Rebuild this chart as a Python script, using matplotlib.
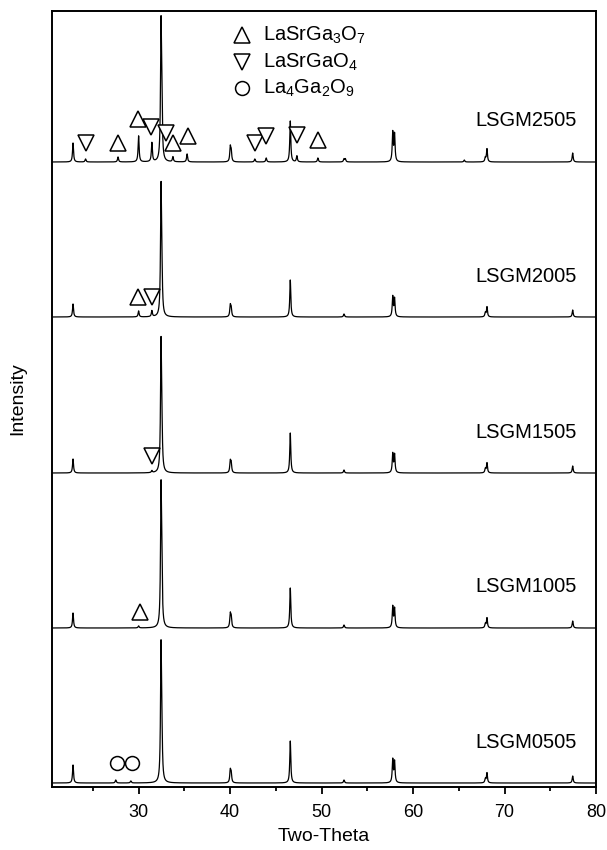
import numpy as np
import matplotlib
matplotlib.use('Agg')
import matplotlib.pyplot as plt

plt.rcParams['font.family'] = ['Liberation Sans', 'DejaVu Sans']
plt.rcParams['mathtext.fontset'] = 'custom'
plt.rcParams['mathtext.rm'] = 'Liberation Sans'
plt.rcParams['mathtext.it'] = 'Liberation Sans:italic'

# perovskite reflections shared by every sample (2-theta, deg)
main_pos = [22.83, 32.45, 32.54, 40.02, 40.12, 46.58, 52.45, 57.78, 57.98, 67.9, 68.08, 77.45]

# intensities per sample, stacked bottom to top
samples = ['LSGM0505', 'LSGM1005', 'LSGM1505', 'LSGM2005', 'LSGM2505']
baselines = [4, 159, 314, 470, 625]
main_heights = {
    'LSGM0505': [18, 130, 38, 12, 9, 42, 3, 23, 21, 4, 10, 7],
    'LSGM1005': [15, 135, 38, 13, 10, 40, 3, 21, 19, 4, 10, 7],
    'LSGM1505': [14, 124, 36, 11, 9, 40, 3, 19, 18, 4, 10, 7],
    'LSGM2005': [13, 123, 36, 11, 8, 37, 3, 20, 18, 4, 10, 7],
    'LSGM2505': [19, 133, 38, 14, 10, 41, 3, 29, 27, 4, 13, 9],
}

# secondary phase reflections
extra_pos = {
    'LSGM0505': [27.5, 29.15],
    'LSGM1005': [30.0],
    'LSGM1505': [31.45],
    'LSGM2005': [30.0, 31.45],
    'LSGM2505': [24.2, 27.75, 30.0, 31.45, 33.75, 35.3, 42.7, 43.95, 47.3, 49.6, 52.6, 65.6],
}
extra_heights = {
    'LSGM0505': [3, 2],
    'LSGM1005': [2],
    'LSGM1505': [2],
    'LSGM2005': [6, 6],
    'LSGM2505': [3, 5, 26, 19, 5, 8, 3, 4, 6, 4, 3, 2],
}

# phase markers: (sample, symbol, 2-theta, height above baseline)
phase_marks = [
    ('LSGM2505', 'v', 24.3, 19), ('LSGM2505', '^', 27.8, 19),
    ('LSGM2505', '^', 29.9, 43), ('LSGM2505', 'v', 31.4, 35),
    ('LSGM2505', 'v', 33.0, 29), ('LSGM2505', '^', 33.8, 19),
    ('LSGM2505', '^', 35.4, 26), ('LSGM2505', 'v', 42.7, 19),
    ('LSGM2505', 'v', 43.9, 26), ('LSGM2505', 'v', 47.3, 27),
    ('LSGM2505', '^', 49.6, 22),
    ('LSGM2005', '^', 29.9, 20), ('LSGM2005', 'v', 31.5, 20),
    ('LSGM1505', 'v', 31.45, 17),
    ('LSGM1005', '^', 30.1, 16),
    ('LSGM0505', 'o', 27.6, 20), ('LSGM0505', 'o', 29.3, 20),
]

legend_symbols = ['^', 'v', 'o']
legend_labels = [r'LaSrGa$_3$O$_7$', r'LaSrGaO$_4$', r'La$_4$Ga$_2$O$_9$']
legend_y = [752, 725, 699]


def profile(x, pos, heights, hw=0.065):
    y = np.zeros_like(x)
    for p, h in zip(pos, heights):
        y += h * hw**2 / ((x - p)**2 + hw**2)
    return y


fig = plt.figure(figsize=(6.07, 8.5), dpi=100)
ax = fig.add_axes([51.7 / 607, 1 - 787 / 850, (596 - 51.7) / 607, 776 / 850])

x = np.arange(20.5, 80.0, 0.005)
for name, base in zip(samples, baselines):
    y = base + profile(x, main_pos, main_heights[name]) + profile(x, extra_pos[name], extra_heights[name])
    ax.plot(x, y, color='black', linewidth=0.9)
    ax.text(77.95, base + 41, name, ha='right', va='center', fontsize=14.5)

offset = dict(zip(samples, baselines))
for name, sym, pos, h in phase_marks:
    ax.plot(pos, offset[name] + h, marker=sym, markersize=11 if sym != 'o' else 10,
            markerfacecolor='white', markeredgecolor='black', markeredgewidth=1.1,
            linestyle='none')

for sym, label, ly in zip(legend_symbols, legend_labels, legend_y):
    ax.plot(41.33, ly, marker=sym, markersize=11 if sym != 'o' else 10,
            markerfacecolor='white', markeredgecolor='black', markeredgewidth=1.1,
            linestyle='none')
    ax.text(43.6, ly, label, ha='left', va='center', fontsize=14.5)

ax.set_xlim(20.5, 80)
ax.set_ylim(0, 776)
ax.set_xticks(np.arange(30, 81, 10))
ax.set_xticks(np.arange(25, 80, 10), minor=True)
ax.set_yticks([])
ax.tick_params(axis='x', which='major', direction='out', length=5, width=1.3, labelsize=13, pad=7)
ax.tick_params(axis='x', which='minor', direction='out', length=3, width=1.3)
for s in ax.spines.values():
    s.set_linewidth(1.4)

ax.set_xlabel('Two-Theta', fontsize=14, labelpad=5)
ax.set_ylabel('Intensity', fontsize=14, labelpad=18)

fig.savefig('out.png', dpi=100)
